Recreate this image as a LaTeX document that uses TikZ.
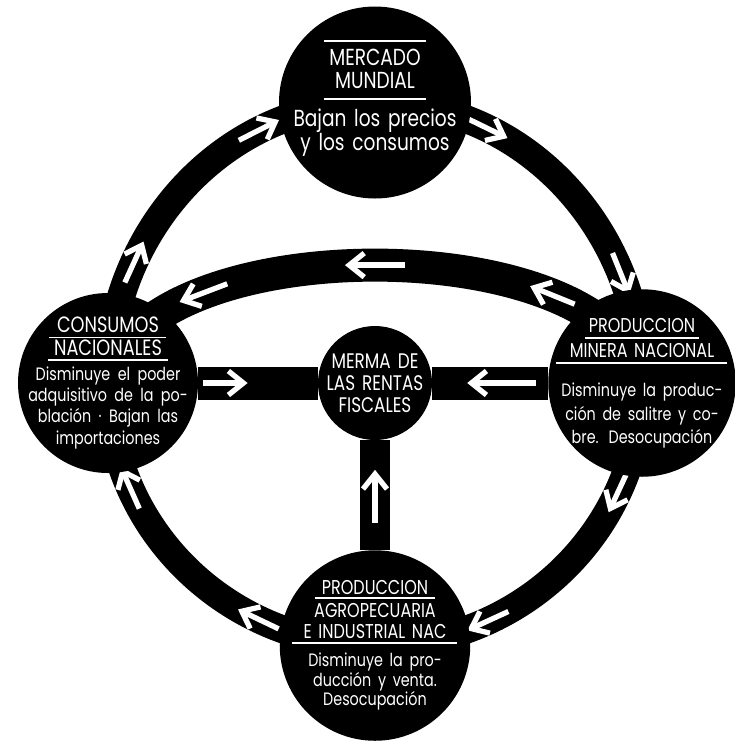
\documentclass[tikz,border=0pt]{standalone}
\usepackage{fontspec}
\setmainfont{Poppins}[FakeStretch=0.8]
\usetikzlibrary{arrows.meta,decorations.markings,backgrounds}
\newcommand{\fs}[2]{\fontsize{#1}{#2}\selectfont}
\newcommand{\rulebox}[3]{\makebox[#1]{#3}\llap{\raisebox{#2}[0pt][0pt]{\rule{#1}{1.6pt}}}}
\tikzset{
  >=Stealth,
  hub/.style={circle,fill=black,text=white,align=center,inner sep=-2cm},
  ring/.style={draw=black,line width=0.93cm},
  bar/.style={draw=black,line width=1.1cm},
  warrow/.style={draw=white,line width=5pt,-{Straight Barb[length=0.5cm,width=0.8cm]}},
  flow/.style 2 args={postaction={decorate,decoration={markings,mark=at position #1 with {\draw[warrow](-#2,0)--(#2,0);}}}}
}
\begin{document}
\begin{tikzpicture}
\useasboundingbox (-12.5,-12.033) rectangle (11.967,12.667);
\node[hub,minimum size=6.4cm,text width=6cm,font={\fs{22}{21}}](mercado)at(0,9.25){\rulebox{3.4cm}{22pt}{MERCADO}\\[1pt]\rulebox{3.4cm}{-11pt}{MUNDIAL}\\[14.8pt]Bajan los precios\\y los consumos};
\node[hub,minimum size=6cm,text width=6cm,font={\fs{21}{20}}](consumo)at(-8.9,-0.1){\rulebox{3.9cm}{-5pt}{CONSUMOS}\\[1.7pt]\rulebox{4cm}{-5pt}{NACIONALES}\\[3.7pt]\fs{17}{20}Disminuye el poder\\adquisitivo de la po-\\blación · Bajan las\\importaciones};
\node[hub,minimum size=6.25cm,text width=6.2cm,font={\fs{19}{22}}](minera)at(8.9,-0.1){\rulebox{3.8cm}{-6pt}{PRODUCCION}\\[1.6pt]\rulebox{5.7cm}{-6.5pt}{MINERA NACIONAL}\\[15.8pt]\fs{17}{22}Disminuye la produc-\\ción de salitre y co-\\bre. Desocupación};
\node[hub,minimum size=6.35cm,text width=6cm,font={\fs{19}{19}}](agro)at(0,-8.85){\rulebox{4cm}{-4pt}{PRODUCCION}\\[2.7pt]AGROPECUARIA\\[1pt]\rulebox{5.5cm}{-5pt}{E INDUSTRIAL NAC}\\[7.4pt]\fs{17}{19}Disminuye la pro-\\ducción y venta.\\[-1pt]Desocupación};
\node[hub,minimum size=3.8cm,text width=3.8cm,font={\fs{20}{21}}](merma)at(0,-0.1){MERMA DE\\LAS RENTAS\\FISCALES};
\begin{scope}[on background layer]
\draw[ring,flow={0.29}{0.75},flow={0.72}{0.75}](consumo.center)to[out=90,in=180](mercado.center);
\draw[ring,flow={0.27}{0.75},flow={0.74}{0.75}](mercado.center)to[out=0,in=90](minera.center);
\draw[ring,flow={0.27}{0.75},flow={0.72}{0.75}](minera.center)to[out=-90,in=0](agro.center);
\draw[ring,flow={0.29}{0.75},flow={0.74}{0.75}](agro.center)to[out=180,in=-90](consumo.center);
\draw[bar,flow={0.21}{0.8},flow={0.5}{1},flow={0.78}{0.85}](minera.center) .. controls (8,5.14) and (-8,5.14) .. (consumo.center);
\draw[bar,flow={0.225}{0.75}](consumo)--(merma);
\draw[bar,flow={0.4}{1.15}](minera)--(merma);
\draw[bar,line width=1cm,flow={0.49}{0.88}](agro)--(merma);
\end{scope}
\end{tikzpicture}
\end{document}
